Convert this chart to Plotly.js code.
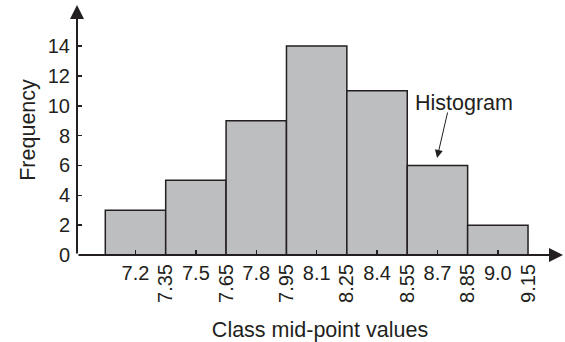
<!DOCTYPE html>
<html><head><meta charset="utf-8">
<script src="https://cdn.plot.ly/plotly-3.0.1.min.js"></script>
<style>html,body{margin:0;padding:0;background:#fff}#chart{width:565px;height:342px}</style>
</head><body><div id="chart"></div>
<script>
const midpoints = [7.2, 7.5, 7.8, 8.1, 8.4, 8.7, 9.0];
const frequencies = [3, 5, 9, 14, 11, 6, 2];
const midLabels = ['7.2', '7.5', '7.8', '8.1', '8.4', '8.7', '9.0'];
const boundaries = [7.35, 7.65, 7.95, 8.25, 8.55, 8.85, 9.15];
const boundaryLabels = ['7.35', '7.65', '7.95', '8.25', '8.55', '8.85', '9.15'];
const yTicks = [0, 2, 4, 6, 8, 10, 12, 14];
const classWidth = 0.3;

const ink = '#231f20';
const family = 'Liberation Sans, Arial, Helvetica, sans-serif';
const fnt = {family: family, size: 20, color: ink};
const tfnt = {family: family, size: 21.5, color: ink};
const xRange = [6.9094, 9.3237];
const yRange = [0, 16.75];

const traces = [
  {type: 'bar', x: midpoints, y: frequencies, width: classWidth,
   marker: {color: '#bdbec0', line: {color: ink, width: 1.5}},
   hoverinfo: 'skip', showlegend: false},
  {type: 'scatter', mode: 'markers', x: boundaries, y: boundaries.map(() => 0),
   xaxis: 'x2', yaxis: 'y', marker: {opacity: 0, size: 1}, hoverinfo: 'skip', showlegend: false}
];

const layout = {
  width: 565, height: 342,
  margin: {l: 77, r: 2, t: 5, b: 87},
  paper_bgcolor: '#fff', plot_bgcolor: '#fff',
  font: fnt,
  bargap: 0,
  xaxis: {
    range: xRange, showgrid: false, zeroline: false, showline: false,
    tickmode: 'array', tickvals: midpoints, ticktext: midLabels,
    ticks: 'inside', ticklen: 5, tickwidth: 1.5, tickcolor: ink,
    tickangle: 0, ticklabelstandoff: 4, tickfont: fnt,
    title: {text: 'Class mid-point values', font: tfnt, standoff: 40}
  },
  xaxis2: {
    range: xRange, overlaying: 'x', anchor: 'y', side: 'bottom',
    showgrid: false, zeroline: false, showline: false,
    tickmode: 'array', tickvals: boundaries, ticktext: boundaryLabels,
    ticks: '', tickangle: -90, ticklabelstandoff: 4, tickfont: fnt
  },
  yaxis: {
    range: yRange, showgrid: false, zeroline: false, showline: false,
    tickmode: 'array', tickvals: yTicks, ticktext: yTicks.map(String),
    ticks: 'inside', ticklen: 5, tickwidth: 1.5, tickcolor: ink,
    ticklabelstandoff: 6, tickfont: fnt,
    title: {text: 'Frequency', font: tfnt, standoff: 6}
  },
  annotations: [
    {x: xRange[1], y: 0, ax: xRange[0], ay: 0, xref: 'x', yref: 'y', axref: 'x', ayref: 'y',
     text: '', showarrow: true, arrowhead: 2, arrowsize: 1.4, arrowwidth: 2, arrowcolor: ink},
    {x: xRange[0], y: yRange[1], ax: xRange[0], ay: 0, xref: 'x', yref: 'y', axref: 'x', ayref: 'y',
     text: '', showarrow: true, arrowhead: 2, arrowsize: 1.4, arrowwidth: 2, arrowcolor: ink},
    {x: 8.83, y: 10.2, xref: 'x', yref: 'y', text: 'Histogram', showarrow: false, font: tfnt},
    {x: 8.698, y: 6.5, ax: 8.752, ay: 9.65, xref: 'x', yref: 'y', axref: 'x', ayref: 'y',
     text: '', showarrow: true, arrowhead: 2, arrowsize: 1.6, arrowwidth: 1, arrowcolor: ink}
  ]
};

Plotly.newPlot('chart', traces, layout, {displayModeBar: false, staticPlot: true});
</script>
</body></html>
